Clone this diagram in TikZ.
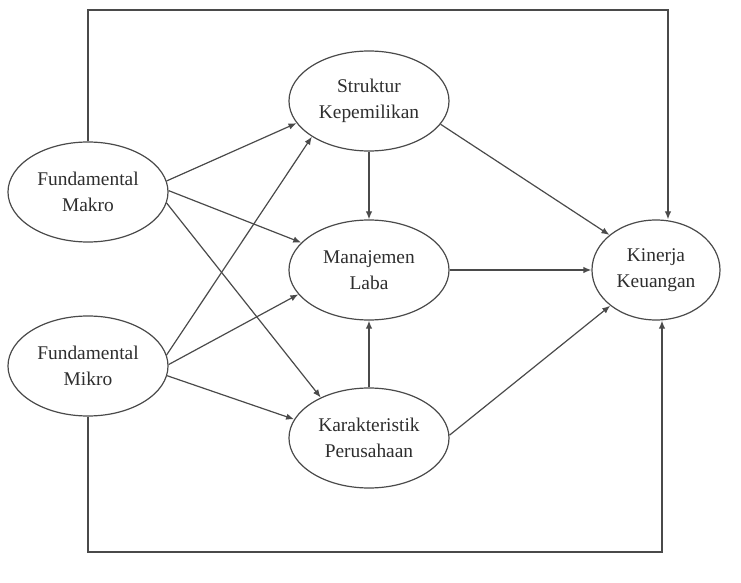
\documentclass[tikz,border=0pt]{standalone}
\usepackage{fontspec}
\setmainfont{Liberation Serif}
\usepackage{tikz}
\usetikzlibrary{arrows.meta, shapes.geometric, positioning}
\definecolor{PathGray}{HTML}{4A4A4A}
\definecolor{TextGray}{HTML}{2E2E2E}

\begin{document}
\begin{tikzpicture}[x=0.5pt, y=-0.5pt]
    \tikzset{
  varnode/.style={ellipse, draw=PathGray, fill=white, line width=0.6pt,
    minimum width=80pt, minimum height=50pt, inner sep=0pt,
    align=center, text=TextGray, font=\fontsize{9.7}{12.8}\selectfont},
  goalnode/.style={varnode, minimum width=64pt},
  link/.style={PathGray, line width=0.6pt,
    -{Latex[length=4pt, width=3.2pt]}},
}
% ============================================================
%  Model: fundamentals -> ownership / earnings / firm traits
%         -> financial performance
% ============================================================
\useasboundingbox (0,0) rectangle (741,583);

% -- Exogenous: fundamentals ---------------------------------
\node[varnode] (makro) at (88, 192) {Fundamental\\Makro};
\node[varnode] (mikro) at (88, 366) {Fundamental\\Mikro};

% -- Mediators ------------------------------------------------
\node[varnode] (struktur) at (369, 101) {Struktur\\Kepemilikan};
\node[varnode] (laba)     at (369, 270) {Manajemen\\Laba};
\node[varnode] (karakter) at (369, 438) {Karakteristik\\Perusahaan};

% -- Outcome --------------------------------------------------
\node[goalnode] (kinerja) at (656, 270) {Kinerja\\Keuangan};

% -- Corners of the outer paths -------------------------------
\coordinate (topr) at (668, 10);
\coordinate (botr) at (662, 552);

% -- Fundamentals -> mediators --------------------------------
\foreach \a/\b in {makro.8/struktur.197, makro.1/laba.158,
                   makro.-8/karakter.140,
                   mikro.8/struktur.212, mikro.1/laba.199,
                   mikro.-7/karakter.166}{
  \draw[link] (\a) -- (\b);
}

% -- Mediators -> earnings management -------------------------
\draw[link] (struktur) -- (laba);
\draw[link] (karakter) -- (laba);

% -- Mediators -> performance ---------------------------------
\draw[link] (struktur.-18) -- (kinerja.143);
\draw[link] (laba.east) -- (kinerja.west);
\draw[link] (karakter.2) -- (kinerja.218);

% -- Direct paths round the outside ---------------------------
\draw[link] (makro.north) |- (topr) -- (topr |- kinerja.north);
\draw[link] (mikro.south) |- (botr) -- (botr |- kinerja.south);

  \end{tikzpicture}
\end{document}
